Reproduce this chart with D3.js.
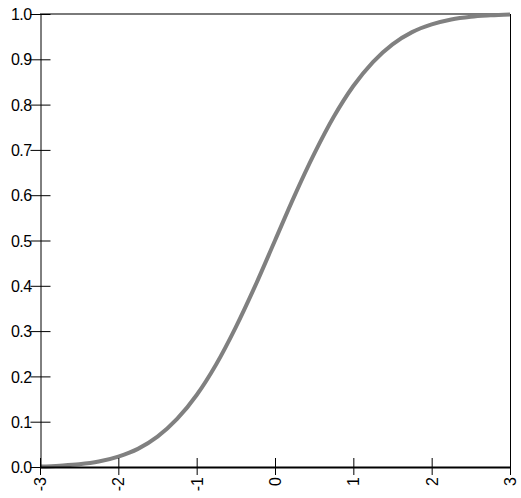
<!DOCTYPE html>
<html>
<head>
<meta charset="utf-8">
<script src="https://cdn.jsdelivr.net/npm/d3@7"></script>
<style>
  body { margin: 0; background: #fff; }
</style>
</head>
<body>
<div id="chart"></div>
<script>
// curve
const xVals = [-3, -2.75, -2.5, -2.25, -2, -1.75, -1.5, -1.25, -1, -0.75, -0.5, -0.25,
               0, 0.25, 0.5, 0.75, 1, 1.25, 1.5, 1.75, 2, 2.25, 2.5, 2.75, 3];
const yVals = [0.001, 0.003, 0.006, 0.012, 0.023, 0.040, 0.067, 0.106, 0.159, 0.227, 0.309, 0.401,
               0.5, 0.599, 0.691, 0.773, 0.841, 0.894, 0.933, 0.960, 0.977, 0.988, 0.994, 0.997, 0.999];
const xTicks = [-3, -2, -1, 0, 1, 2, 3];
const yTicks = [0, 0.1, 0.2, 0.3, 0.4, 0.5, 0.6, 0.7, 0.8, 0.9, 1.0];

const w = 521, h = 498;
const plotLeft = 40, plotRight = 510, plotTop = 14, plotBottom = 467;
const font = "'Liberation Sans', Arial, sans-serif";

const xScale = d3.scaleLinear().domain([-3, 3]).range([plotLeft, plotRight]);
const yScale = d3.scaleLinear().domain([0, 1]).range([plotBottom, plotTop]);

const svg = d3.select("#chart").append("svg")
  .attr("width", w)
  .attr("height", h);

// top border (gray) and right border
svg.append("line")
   .attr("x1", plotLeft).attr("x2", plotRight)
   .attr("y1", plotTop).attr("y2", plotTop)
   .attr("stroke", "#7a7a7a").attr("stroke-width", 2);
svg.append("line")
   .attr("x1", plotRight + 0.5).attr("x2", plotRight + 0.5)
   .attr("y1", plotTop).attr("y2", plotBottom)
   .attr("stroke", "#000").attr("stroke-width", 1);

// curve
const pts = xVals.map((x, i) => [x, yVals[i]]);
svg.append("path")
   .datum(pts)
   .attr("fill", "none")
   .attr("stroke", "#808080")
   .attr("stroke-width", 4)
   .attr("d", d3.line()
     .x(d => xScale(d[0]))
     .y(d => yScale(d[1]))
     .curve(d3.curveMonotoneX));

// y axis
const yAxis = d3.axisLeft(yScale)
  .tickValues(yTicks)
  .tickFormat(d => d.toFixed(1))
  .tickSizeOuter(0);
const gy = svg.append("g")
  .attr("transform", "translate(" + (plotLeft + 0.5) + ",0)")
  .call(yAxis);
gy.select(".domain").attr("stroke", "#000");
gy.selectAll(".tick line").attr("x1", -10).attr("x2", 10).attr("stroke", "#000");
gy.selectAll(".tick text").attr("x", -9).attr("dy", "0.35em")
  .attr("fill", "#000")
  .style("font-family", font)
  .style("font-size", "16px")
  .style("letter-spacing", "-0.6px");

// x axis
const xAxis = d3.axisBottom(xScale)
  .tickValues(xTicks)
  .tickFormat(d => String(d))
  .tickSizeOuter(0);
const gx = svg.append("g")
  .attr("transform", "translate(0," + plotBottom + ")")
  .call(xAxis);
gx.select(".domain").attr("stroke", "#000").attr("stroke-width", 2);
gx.selectAll(".tick line").attr("y1", -9).attr("y2", 8).attr("stroke", "#000");
gx.selectAll(".tick text")
  .attr("y", 0).attr("x", 0)
  .attr("dy", "0.35em")
  .attr("text-anchor", "end")
  .attr("fill", "#000")
  .attr("transform", "translate(0,10) rotate(-90)")
  .style("font-family", font)
  .style("font-size", "16px");
</script>
</body>
</html>
